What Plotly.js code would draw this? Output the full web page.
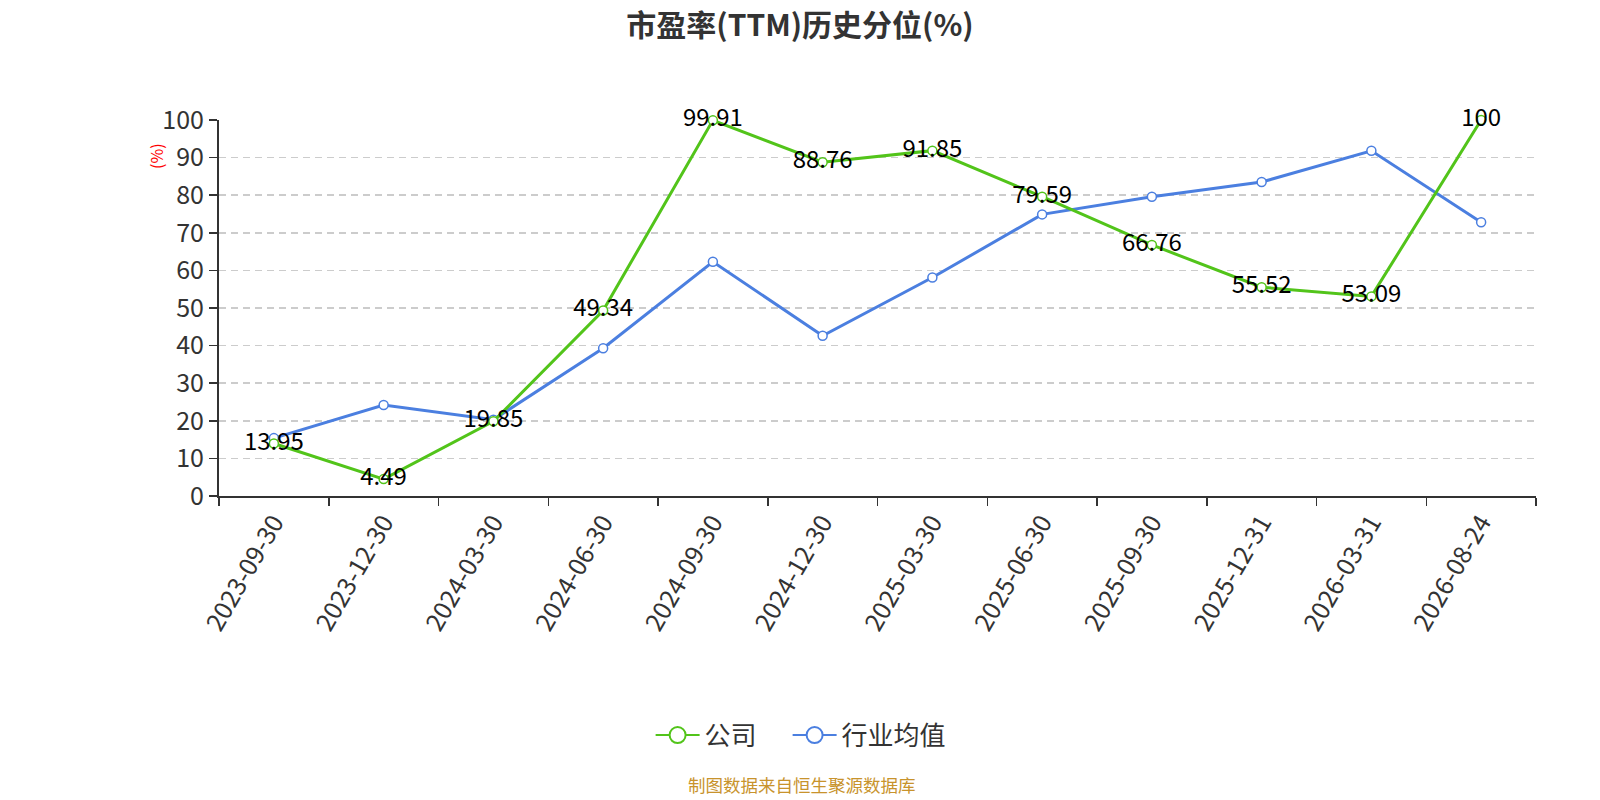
<!DOCTYPE html>
<html>
<head>
<meta charset="utf-8">
<script src="https://cdn.plot.ly/plotly-3.0.1.min.js"></script>
<style>
  body { margin: 0; background: #fff; }
  #myDiv { width: 1600px; height: 800px; }
</style>
</head>
<body>
<div id="myDiv"></div>
<script>
// Report dates on the x axis
var dates = ['2023-09-30', '2023-12-30', '2024-03-30', '2024-06-30', '2024-09-30', '2024-12-30',
  '2025-03-30', '2025-06-30', '2025-09-30', '2025-12-31', '2026-03-31', '2026-08-24'];

// PE(TTM) percentile of the company and of the industry average
var companyValues = [13.95, 4.49, 19.85, 49.34, 99.91, 88.76, 91.85, 79.59, 66.76, 55.52, 53.09, 100];
var industryValues = [15.4, 24.2, 20.3, 39.3, 62.3, 42.6, 58.1, 74.9, 79.6, 83.5, 91.8, 72.8];

var yTicks = [0, 10, 20, 30, 40, 50, 60, 70, 80, 90, 100];

var seriesNames = ['公司', '行业均值'];
var green = '#52c41a';
var blue = '#4b7fe0';

var font = 'Microsoft YaHei, "Noto Sans CJK SC", "Noto Sans", sans-serif';

var trace1 = {
  name: seriesNames[0],
  x: dates,
  y: companyValues,
  type: 'scatter',
  mode: 'lines+markers+text',
  text: companyValues.map(String),
  textposition: 'middle center',
  textfont: {size: 24, color: '#000', family: font},
  line: {color: green, width: 3},
  marker: {symbol: 'circle', size: 9, color: '#fff', line: {color: green, width: 1.5}},
  cliponaxis: false,
  showlegend: false
};

var trace2 = {
  name: seriesNames[1],
  x: dates,
  y: industryValues,
  type: 'scatter',
  mode: 'lines+markers',
  line: {color: blue, width: 3},
  marker: {symbol: 'circle', size: 9, color: '#fff', line: {color: blue, width: 1.5}},
  cliponaxis: false,
  showlegend: false
};

// legend-only entries so the legend symbol can be bigger than the plot markers
var legend1 = {
  name: seriesNames[0], x: [null], y: [null], type: 'scatter', mode: 'lines+markers',
  legendwidth: 78,
  line: {color: green, width: 2},
  marker: {symbol: 'circle', size: 16, color: '#fff', line: {color: green, width: 2}}
};
var legend2 = {
  name: seriesNames[1], x: [null], y: [null], type: 'scatter', mode: 'lines+markers',
  line: {color: blue, width: 2},
  marker: {symbol: 'circle', size: 16, color: '#fff', line: {color: blue, width: 2}}
};

// Company trace drawn on top
var data = [trace2, trace1, legend1, legend2];

var layout = {
  width: 1600,
  height: 800,
  margin: {l: 219, r: 64, t: 120, b: 304},
  paper_bgcolor: '#fff',
  plot_bgcolor: '#fff',
  font: {family: font, color: '#333'},
  title: {
    text: '<b>市盈率(TTM)历史分位(%)</b>',
    font: {size: 30, color: '#333', family: font},
    x: 0.5,
    xanchor: 'center',
    y: 0.968,
    yanchor: 'middle'
  },
  showlegend: true,
  legend: {
    orientation: 'h',
    x: 0.442,
    xanchor: 'center',
    y: -0.636,
    yanchor: 'middle',
    itemwidth: 44,
    font: {size: 26, color: '#333', family: font}
  },
  xaxis: {
    type: 'category',
    categoryorder: 'array',
    categoryarray: dates,
    range: [-0.5, dates.length - 0.5],
    tickson: 'boundaries',
    ticks: 'outside',
    ticklen: 8,
    tickwidth: 1.5,
    tickcolor: '#333',
    tickangle: -60,
    tickfont: {size: 25, color: '#333', family: font},
    showline: true,
    linecolor: '#333',
    linewidth: 2,
    showgrid: false,
    zeroline: false,
    automargin: false,
    fixedrange: true
  },
  yaxis: {
    range: [0, 100],
    tickvals: yTicks,
    ticks: 'outside',
    ticklen: 8,
    tickwidth: 1.5,
    tickcolor: '#333',
    tickfont: {size: 25, color: '#333', family: font},
    showline: true,
    linecolor: '#333',
    linewidth: 2,
    showgrid: true,
    gridcolor: '#cccccc',
    griddash: '7px,5px',
    gridwidth: 1.5,
    zeroline: false,
    automargin: false,
    fixedrange: true
  },
  annotations: [
    {
      text: '(%)',
      xref: 'paper', yref: 'paper',
      x: -0.048, y: 0.904,
      xanchor: 'center', yanchor: 'middle',
      textangle: -90,
      showarrow: false,
      font: {size: 16, color: '#ff0000', family: font}
    },
    {
      text: '制图数据来自恒生聚源数据库',
      xref: 'paper', yref: 'paper',
      x: 0.443, y: -0.768,
      xanchor: 'center', yanchor: 'middle',
      showarrow: false,
      font: {size: 17.5, color: '#c8932c', family: font}
    }
  ]
};

Plotly.newPlot('myDiv', data, layout, {displayModeBar: false, staticPlot: true});
</script>
</body>
</html>
